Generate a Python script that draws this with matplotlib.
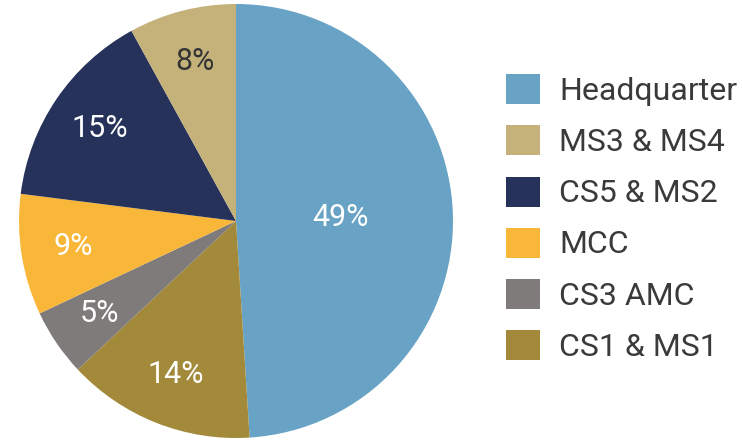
import numpy as np
import matplotlib
matplotlib.use("Agg")
import matplotlib.pyplot as plt
import matplotlib.patches as mpatches

# slices in drawing order (clockwise from 12 o'clock)
labels = ["Headquarter", "CS1 & MS1", "CS3 AMC", "MCC", "CS5 & MS2", "MS3 & MS4"]
shares = [49, 14, 5, 9, 15, 8]
colors = ["#68a3c5", "#a38a3a", "#7f7b7a", "#f9b73a", "#26325a", "#c5b27a"]
# legend order as in the picture
legend_order = ["Headquarter", "MS3 & MS4", "CS5 & MS2", "MCC", "CS3 AMC", "CS1 & MS1"]

plt.rcParams['font.family'] = ['Roboto', 'DejaVu Sans']

fig = plt.figure(figsize=(7.42, 4.40), dpi=100)
cx, cy, r = 236, 221, 217
W, H = 742, 440
ax = fig.add_axes([(cx - r) / W, (H - cy - r) / H, 2 * r / W, 2 * r / H])

wedges, _ = ax.pie(shares, colors=colors, startangle=90, counterclock=False,
                   radius=1, wedgeprops=dict(linewidth=0))
ax.set_xlim(-1, 1)
ax.set_ylim(-1, 1)
ax.set_aspect('equal')
ax.axis('off')

# percentage labels
big = max(shares)
for w, v in zip(wedges, shares):
    ang = np.deg2rad((w.theta1 + w.theta2) / 2)
    d = 0.48 if v == big else 0.76
    tc = '#333333' if v == 8 else 'white'
    ax.text(d * np.cos(ang), d * np.sin(ang), '%d%%' % v, ha='center', va='center',
            fontsize=22, color=tc)

col = dict(zip(labels, colors))
handles = [mpatches.Patch(facecolor=col[l], edgecolor='none', label=l) for l in legend_order]
fig.legend(handles=handles, loc='center left', bbox_to_anchor=(506 / W, 1 - 218 / H),
           frameon=False, fontsize=23, handlelength=1.07, handleheight=1.07,
           handletextpad=0.6, labelspacing=0.6, borderpad=0, borderaxespad=0,
           labelcolor='#3a3a3a')

fig.savefig('out.png', dpi=100)
